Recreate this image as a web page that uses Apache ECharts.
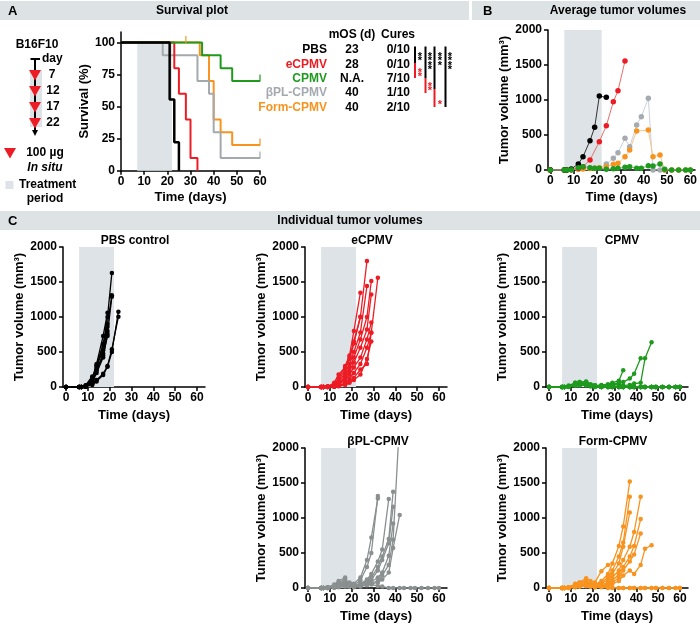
<!DOCTYPE html>
<html><head><meta charset="utf-8">
<script src="https://cdn.jsdelivr.net/npm/echarts@6/dist/echarts.min.js"></script>
<style>html,body{margin:0;padding:0;background:#fff}#c{width:700px;height:626px}</style>
</head><body><div id="c"></div>
<script>
// ---------- DATA ----------
const survTicksX = [0,10,20,30,40,50,60];
const survTicksY = [0,25,50,75,100];
const tumorTicksY = [0,500,1000,1500,2000];
const treatment = [7,22];
const shadeTumor = [6,22];

// Survival (Kaplan-Meier) steps [day, %]
const survPBS  = [[0,100],[21,55.6],[23,22.2],[25,0]];
const survE    = [[0,100],[23,80],[25,60],[28,40],[30,10],[33,0]];
const survC    = [[0,100],[35,90],[43,80],[48,70],[60,70]];
const survBPL  = [[0,100],[18,90],[33,70],[38,60],[40,30],[43,10],[60,10]];
const survForm = [[0,100],[34,90],[38,70],[40,40],[43,30],[48,20],[60,20]];
const censorC = [[60,70]];
const censorBPL = [[60,10]];
const censorForm = [[28,100],[60,20]];

const groupNames = ['PBS','eCPMV','CPMV','βPL-CPMV','Form-CPMV'];
const mOS = ['23','28','N.A.','40','40'];
const cures = ['0/10','0/10','7/10','1/10','2/10'];

// Average tumor volumes [day, mm3]
const avgPBS = [[0,0],[6,0],[7,0],[9,15],[12,86],[14,190],[17,419],[19,610],[21,1057],[24,1038]];
const avgE = [[0,0],[6,0],[7,0],[9,5],[12,20],[14,48],[17,143],[21,405],[24,633],[27,976],[29,1133],[32,1557]];
const avgBPL = [[0,0],[6,0],[7,0],[9,5],[12,15],[14,25],[17,30],[19,25],[21,30],[24,86],[27,167],[29,248],[32,452],[34,333],[37,643],[39,762],[42,1024],[44,0],[47,0],[49,0]];
const avgForm = [[0,0],[6,0],[7,0],[9,5],[12,10],[14,15],[17,20],[19,25],[21,33],[24,48],[27,81],[29,95],[32,190],[34,286],[37,557],[42,571],[44,190],[47,214],[49,0],[52,0],[55,0],[58,0],[60,0]];
const avgC = [[0,0],[6,0],[7,0],[9,5],[12,33],[14,48],[17,33],[19,24],[21,24],[24,10],[27,19],[29,24],[32,38],[34,48],[37,24],[39,24],[42,62],[44,57],[47,86],[49,10],[52,0],[55,0],[58,0],[60,0]];

// Individual tumour volumes: measurement days and per-mouse values
const dayGrid = [0,6,7,9,12,14,17,19,21,24,27,29,32,34,37,39,42,44,47,49,52,55,58,60];

const pbsMice = [
  [0,0,0,20,120,330,730,1060],
  [0,0,0,15,100,280,620,860],
  [0,0,0,10,90,300,520,800],
  [0,0,0,25,150,250,450,730],
  [0,0,0,10,110,310,600,1000,1630],
  [0,0,0,15,80,230,480,900,1310],
  [0,0,0,5,60,200,420,760,1290],
  [0,0,0,5,40,100,190,300,540,1005],
  [0,0,0,5,30,80,170,290,500,1076]
];
const ecpmvMice = [
  [0,0,0,10,40,120,300,450,800,1347],
  [0,0,0,5,60,180,280,430,650,1004],
  [0,0,0,5,30,90,250,400,620,1000,1800],
  [0,0,0,5,20,70,200,330,500,780,1443],
  [0,0,0,5,15,50,150,280,420,680,1000,1514],
  [0,0,0,0,10,40,120,230,350,560,820,1323],
  [0,0,0,0,10,30,100,180,280,420,680,920],
  [0,0,0,0,5,20,60,120,200,330,560,776],
  [0,0,0,0,5,15,40,80,130,250,330,780,1561],
  [0,0,0,0,5,10,30,60,100,180,400,650]
];
const cpmvMice = [
  [0,0,0,20,60,50,70,30,20,30,40,60,90,240],
  [0,0,0,10,50,70,40,20,10,20,30,40,60,70,120,190,410],
  [0,0,0,10,40,60,50,30,20,10,20,30,40,20,30,50,60,410,640],
  [0,0,0,10,40,30,60,20,10,0,10,20,10,0,0,0,0,0,0,0,0,0,0,0],
  [0,0,0,5,60,40,30,20,10,0,0,10,0,0,0,0,0,0,0,0,0,0,0,0],
  [0,0,0,10,30,50,40,30,20,10,0,0,0,0,0,0,0,0,0,0,0,0,0,0],
  [0,0,0,5,20,70,80,40,20,0,0,0,0,0,0,0,0,0,0,0,0,0,0,0],
  [0,0,0,10,50,20,30,10,0,0,0,0,0,0,0,0,0,0,0,0,0,0,0,0],
  [0,0,0,5,30,40,20,10,0,0,0,0,0,0,0,0,0,0,0,0,0,0,0,0],
  [0,0,0,0,20,30,50,20,10,0,0,0,0,0,0,0,0,0,0,0,0,0,0,0]
];
const bplMice = [
  [0,0,0,10,40,80,120,60,40,110,300,500,1313],
  [0,0,0,5,30,60,100,80,60,150,400,720,1280],
  [0,0,0,5,20,50,80,40,30,60,120,200,380,550,1270],
  [0,0,0,5,20,40,60,50,40,60,100,150,300,450,700,1375],
  [0,0,0,0,10,30,50,40,30,50,80,120,250,400,640,1160],
  [0,0,0,0,10,20,40,30,20,30,60,90,150,220,460,920],
  [0,0,0,0,10,20,30,20,20,30,50,70,100,180,330,690,2400],
  [0,0,0,0,5,10,20,20,10,20,40,60,80,120,220,570,1043],
  [0,0,0,10,50,100,150],
  [0,0,0,10,30,60,90,50,40,60,80,50,30,20,0,0,0,0,0,0,0,0,0,0]
];
const formMice = [
  [0,0,0,10,60,80,100,60,50,100,200,350,600,880,1523],
  [0,0,0,5,40,60,80,50,40,80,150,250,450,650,1304],
  [0,0,0,5,30,40,60,40,30,60,120,200,350,590,1080],
  [0,0,0,5,20,30,40,30,20,40,80,150,250,400,590,800,1304],
  [0,0,0,5,20,30,50,30,20,30,60,100,200,300,450,600,985],
  [0,0,0,0,10,20,30,20,10,20,40,70,150,250,380,480,780],
  [0,0,0,0,10,20,30,20,10,20,30,60,100,180,250,200,330,560,610],
  [0,0,0,10,50,80,140,100,80,240,330],
  [0,0,0,10,40,60,80,40,20,30,20,10,0,0,0,0,0,0,0,0,0,0,0,0],
  [0,0,0,5,30,50,40,30,20,10,0,0,0,0,0,0,0,0,0,0,0,0,0,0]
];

// significance asterisk counts (black, red) per bracket column
const sigBlack = [2,4,3,4];
const sigRed = [2,2,1,0];

// ---------- STYLE ----------
const FF = 'Liberation Sans, Arial, Helvetica, sans-serif';
const COL = {pbs:'#000000', e:'#ed1c24', c:'#1e9a1e', bpl:'#a3a9ad', form:'#f7931e', shade:'#dde3e6', band:'#dde2e5'};

const chart = echarts.init(document.getElementById('c'), null, {renderer:'canvas'});

const grids = [
  {left:121, top:32, width:139, height:138.7},
  {left:548, top:30, width:147, height:140},
  {left:63, top:247, width:142, height:140},
  {left:305, top:247, width:142, height:140},
  {left:546, top:247, width:142, height:140},
  {left:305, top:448, width:142, height:140},
  {left:546, top:448, width:142, height:140}
];
const plain = function(v){ return String(v); };

function xAxis(gi, min, max, nameGap) {
  return {
    type:'value', gridIndex:gi, min:min, max:max,
    axisLine:{show:true, onZero:false, lineStyle:{color:'#000', width:1.5}},
    axisTick:{show:true, length:4, customValues:survTicksX, lineStyle:{color:'#000', width:1.5}},
    axisLabel:{customValues:survTicksX, formatter:plain, color:'#000', fontWeight:'bold', fontSize:12, fontFamily:FF, margin:5},
    splitLine:{show:false},
    name:'Time (days)', nameLocation:'middle', nameGap:nameGap,
    nameTextStyle:{color:'#000', fontWeight:'bold', fontSize:13, fontFamily:FF}
  };
}
function yAxis(gi, min, max, ticks, name, nameGap) {
  return {
    type:'value', gridIndex:gi, min:min, max:max,
    axisLine:{show:true, onZero:false, lineStyle:{color:'#000', width:1.5}},
    axisTick:{show:true, length:4, customValues:ticks, lineStyle:{color:'#000', width:1.5}},
    axisLabel:{customValues:ticks, formatter:plain, color:'#000', fontWeight:'bold', fontSize:12, fontFamily:FF, margin:6},
    splitLine:{show:false},
    name:name, nameLocation:'middle', nameGap:nameGap,
    nameTextStyle:{color:'#000', fontWeight:'bold', fontSize:13, fontFamily:FF}
  };
}

const xAxes = [
  xAxis(0, 0, 60, 20),
  xAxis(1, -1, 62, 21),
  xAxis(2, -1.4, 63.7, 22),
  xAxis(3, -1.4, 63.7, 22),
  xAxis(4, -1.4, 63.7, 22),
  xAxis(5, -1.4, 63.7, 22),
  xAxis(6, -1.4, 63.7, 22)
];
const TV = 'Tumor volume (mm³)';
const yAxes = [
  yAxis(0, 0, 108.2, survTicksY, 'Survival (%)', 29),
  yAxis(1, 0, 2000, tumorTicksY, TV, 37),
  yAxis(2, 0, 2000, tumorTicksY, TV, 35),
  yAxis(3, 0, 2000, tumorTicksY, TV, 35),
  yAxis(4, 0, 2000, tumorTicksY, TV, 35),
  yAxis(5, 0, 2000, tumorTicksY, TV, 35),
  yAxis(6, 0, 2000, tumorTicksY, TV, 35)
];

const series = [];
function shade(gi, range, top) {
  series.push({
    type:'line', xAxisIndex:gi, yAxisIndex:gi, data:[], z:1, silent:true,
    markArea:{silent:true, itemStyle:{color:COL.shade}, data:[[{xAxis:range[0], yAxis:0},{xAxis:range[1], yAxis:top}]]}
  });
}
shade(0, treatment, 100);
for (let g = 1; g <= 6; g++) shade(g, shadeTumor, 2000);

// Survival curves
function surv(data, color, w) {
  series.push({type:'line', xAxisIndex:0, yAxisIndex:0, step:'end', data:data, symbol:'none',
    lineStyle:{color:color, width:w}, z:2});
}
surv(survForm, COL.form, 2);
surv(survBPL, COL.bpl, 2);
surv(survE, COL.e, 2);
surv(survC, COL.c, 2);
surv(survPBS, COL.pbs, 2.5);
function censor(data, color) {
  series.push({type:'scatter', xAxisIndex:0, yAxisIndex:0, data:data, symbol:'rect', symbolSize:[1.5,7],
    symbolOffset:[0,-3], itemStyle:{color:color}, z:3});
}
censor(censorC, COL.c); censor(censorBPL, COL.bpl); censor(censorForm, COL.form);

// Average curves
function avg(data, lc, pc) {
  series.push({type:'line', xAxisIndex:1, yAxisIndex:1, data:data, symbol:'circle', symbolSize:5.5,
    lineStyle:{color:lc, width:1}, itemStyle:{color:pc}, z:2});
}
avg(avgBPL, '#c9d0de', '#a6abaf');
avg(avgForm, '#f5c58a', COL.form);
avg(avgE, '#e5706a', COL.e);
avg(avgPBS, '#333', '#000');
avg(avgC, '#78b878', COL.c);

// Individual curves
function mice(gi, list, color) {
  list.forEach(function(vals) {
    series.push({type:'line', xAxisIndex:gi, yAxisIndex:gi,
      data: vals.map(function(v, i){ return [dayGrid[i], v]; }),
      symbol:'circle', symbolSize:4.5, lineStyle:{color:color, width:1.3}, itemStyle:{color:color}, z:2});
  });
}
mice(2, pbsMice, '#000');
mice(3, ecpmvMice, COL.e);
mice(4, cpmvMice, COL.c);
mice(5, bplMice, '#8a8f8f');
mice(6, formMice, COL.form);

// ---------- GRAPHIC ----------
const T = function(x, y, text, o) {
  o = o || {};
  return {type:'text', x:x, y:y, rotation:o.rot||0, z:10, style:{text:text, fill:o.fill||'#000',
    font:(o.italic?'italic ':'')+'bold '+(o.size||12)+'px '+FF, align:o.align||'center', verticalAlign:'middle'}};
};
const R = function(x, y, w, h, fill) { return {type:'rect', shape:{x:x,y:y,width:w,height:h}, style:{fill:fill}, z:0}; };
const L = function(x1, y1, x2, y2, color, w) { return {type:'line', shape:{x1:x1,y1:y1,x2:x2,y2:y2}, style:{stroke:color, lineWidth:w||2}, z:10}; };
const TRI = function(cx, cy, s, color) {
  return {type:'polygon', shape:{points:[[cx-s/2, cy-s*0.42],[cx+s/2, cy-s*0.42],[cx, cy+s*0.45]]}, style:{fill:color}, z:11};
};

const graphics = [
  R(0, 1, 469, 19, COL.band), R(472, 1, 228, 19, COL.band), R(0, 211, 700, 19, COL.band),
  T(8, 11, 'A', {align:'left', size:13}), T(192, 11, 'Survival plot'),
  T(483, 11, 'B', {align:'left', size:13}), T(618, 11, 'Average tumor volumes'),
  T(8, 221, 'C', {align:'left', size:13}), T(350, 221, 'Individual tumor volumes'),
  // timeline schematic
  T(37, 45, 'B16F10'),
  R(30, 70, 12, 57, COL.shade),
  L(35, 59, 35, 131, '#000', 2), L(30.5, 59, 40, 59, '#000', 2),
  {type:'polygon', shape:{points:[[32,130],[38,130],[35,136]]}, style:{fill:'#000'}, z:10},
  T(42, 59, 'day', {align:'left'}),
  TRI(35, 75, 12, COL.e), TRI(35, 91, 12, COL.e), TRI(35, 107, 12, COL.e), TRI(35, 123, 12, COL.e),
  T(52, 75, '7'), T(53, 91, '12'), T(53, 107, '17'), T(53, 123, '22'),
  TRI(10, 153, 12, COL.e), T(45, 153, '100 µg'), T(45, 168, 'In situ', {italic:true}),
  R(5.5, 181, 8, 8, COL.shade), T(19, 185, 'Treatment', {align:'left'}), T(45, 199, 'period'),
  // table
  T(352, 35, 'mOS (d)'), T(398, 35, 'Cures')
];
const rowY = [50, 64.5, 79, 93, 107.5];
const rowCol = [COL.pbs, COL.e, COL.c, COL.bpl, COL.form];
for (let i = 0; i < 5; i++) {
  graphics.push(T(327, rowY[i], groupNames[i], {align:'right', fill:rowCol[i]}));
  graphics.push(T(352, rowY[i], mOS[i]));
  graphics.push(T(410, rowY[i], cures[i], {align:'right'}));
}
// significance bars
graphics.push(
  L(415, 46.5, 415, 63, '#000', 2), L(415, 63, 415, 78, COL.e, 2),
  L(425.5, 46.5, 425.5, 78, '#000', 2), L(425.5, 78, 425.5, 93, COL.e, 2),
  L(434.5, 46.5, 434.5, 89, '#000', 2), L(434.5, 89, 434.5, 107, COL.e, 2),
  L(445.5, 46.5, 445.5, 107, '#000', 2)
);
const sigX = [420, 430, 440, 450];
const sigRedY = [69.5, 83.5, 101.5, 0];
function stars(x, y0, n, color) {
  for (let k = 0; k < n; k++) {
    graphics.push({type:'text', x:x, y:y0 + k*4.4, z:10,
      style:{text:'*', fill:color, font:'bold 11px '+FF, align:'center', verticalAlign:'middle'}});
  }
}
for (let j = 0; j < 4; j++) {
  stars(sigX[j], 57, sigBlack[j], '#000');
  if (sigRed[j]) stars(sigX[j], sigRedY[j] + 3, sigRed[j], COL.e);
}
// panel C titles
graphics.push(
  T(135, 241, 'PBS control'), T(372, 241, 'eCPMV'), T(622, 241, 'CPMV'),
  T(378, 442, 'βPL-CPMV'), T(613, 442, 'Form-CPMV')
);

chart.setOption({
  animation:false,
  backgroundColor:'#fff',
  grid:grids,
  xAxis:xAxes,
  yAxis:yAxes,
  series:series,
  graphic:{elements:graphics}
});
</script></body></html>
